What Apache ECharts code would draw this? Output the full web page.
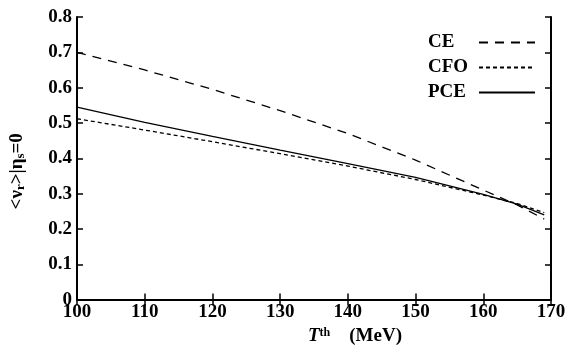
<!DOCTYPE html>
<html><head><meta charset="utf-8">
<script src="https://cdn.jsdelivr.net/npm/echarts@6/dist/echarts.min.js"></script>
<style>html,body{margin:0;padding:0;background:#fff}#c{width:588px;height:351px}</style>
</head><body><div id="c"></div>
<script>
const T = [100, 110, 120, 130, 140, 150, 160, 165, 169];
const CE = [0.700, 0.650, 0.595, 0.535, 0.470, 0.395, 0.310, 0.268, 0.228];
const CFO = [0.512, 0.480, 0.447, 0.413, 0.378, 0.340, 0.296, 0.272, 0.246];
const PCE = [0.545, 0.502, 0.462, 0.423, 0.385, 0.346, 0.298, 0.270, 0.240];
const xTicks = [100, 110, 120, 130, 140, 150, 160, 170];
const yTicks = [0, 0.1, 0.2, 0.3, 0.4, 0.5, 0.6, 0.7, 0.8];

const font = '"Liberation Serif", "DejaVu Serif", serif';
const pair = a => T.map((t, i) => [t, a[i]]);
const chart = echarts.init(document.getElementById('c'));
const lab = {fontFamily: font, fontSize: 19, fontWeight: 'bold', color: '#000'};
chart.setOption({
  animation: false,
  grid: {left: 76, right: 37, top: 17, bottom: 47},
  legend: {
    orient: 'vertical', right: 47, top: 28, itemGap: 6, itemWidth: 56, itemHeight: 18,
    align: 'right',
    itemStyle: {opacity: 0},
    formatter: n => '{a|' + n + '}',
    textStyle: {fontFamily: font, fontSize: 19, fontWeight: 'bold', color: '#000',
      rich: {a: {fontFamily: font, fontSize: 19, fontWeight: 'bold', width: 46, align: 'left'}}},
    data: ['CE', 'CFO', 'PCE']
  },
  xAxis: [{
    type: 'value', min: 100, max: 170, interval: 10,
    axisLine: {lineStyle: {color: '#000', width: 2}},
    axisTick: {inside: true, length: 6, lineStyle: {color: '#000', width: 1.5}},
    axisLabel: Object.assign({margin: 3}, lab),
    splitLine: {show: false},
    name: '{it|T}{sup|th}    (MeV)', nameLocation: 'middle', nameGap: 24,
    nameTextStyle: {fontFamily: font, fontSize: 19, fontWeight: 'bold', color: '#000', padding: [0, 0, 0, 82],
      rich: {it: {fontFamily: font, fontSize: 19, fontStyle: 'italic', fontWeight: 'bold'},
             sup: {fontFamily: font, fontSize: 12, fontWeight: 'bold', verticalAlign: 'top', padding: [0,0,8,0]}}}
  }, {
    type: 'value', position: 'top', min: 100, max: 170, interval: 10,
    axisLine: {lineStyle: {color: '#000', width: 2}},
    axisTick: {inside: true, length: 6, lineStyle: {color: '#000', width: 1.5}},
    axisLabel: {show: false}, splitLine: {show: false}
  }],
  yAxis: [{
    type: 'value', min: 0, max: 0.8, interval: 0.1,
    axisLine: {show: true, lineStyle: {color: '#000', width: 2}},
    axisTick: {show: true, inside: true, length: 6, lineStyle: {color: '#000', width: 1.5}},
    axisLabel: Object.assign({margin: 5, formatter: v => (v === 0 ? '0' : v.toFixed(1))}, lab),
    splitLine: {show: false},
    name: '<ν{sub|r}>|η{sub|s}=0', nameLocation: 'middle', nameGap: 50, nameRotate: 90,
    nameTextStyle: {fontFamily: font, fontSize: 19, fontWeight: 'bold', color: '#000', padding: [0, 26, 0, 0],
      rich: {sub: {fontFamily: font, fontSize: 13, fontWeight: 'bold', verticalAlign: 'bottom', padding: [6,0,0,0]}}}
  }, {
    type: 'value', position: 'right', min: 0, max: 0.8, interval: 0.1,
    axisLine: {show: true, lineStyle: {color: '#000', width: 2}},
    axisTick: {show: true, inside: true, length: 6, lineStyle: {color: '#000', width: 1.5}},
    axisLabel: {show: false}, splitLine: {show: false}
  }],
  series: [
    {name: 'CE', type: 'line', data: pair(CE), symbol: 'none', lineStyle: {color: '#000', width: 1.3, type: [9, 7]}, itemStyle: {color: '#000'}},
    {name: 'CFO', type: 'line', data: pair(CFO), symbol: 'none', lineStyle: {color: '#000', width: 1.3, type: [4, 3]}, itemStyle: {color: '#000'}},
    {name: 'PCE', type: 'line', data: pair(PCE), symbol: 'none', lineStyle: {color: '#000', width: 1.3, type: 'solid'}, itemStyle: {color: '#000'}}
  ]
});
</script></body></html>
